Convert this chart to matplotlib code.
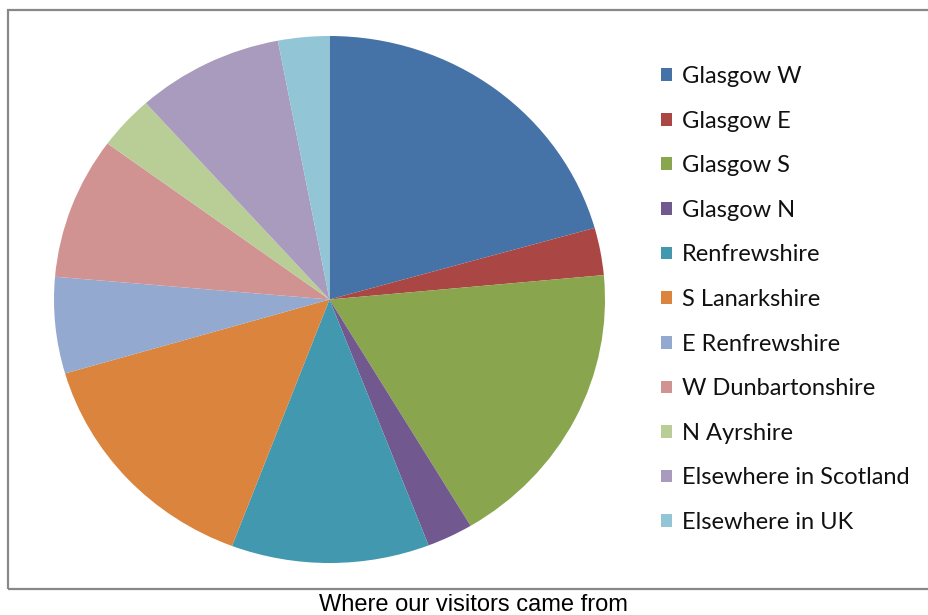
import matplotlib
matplotlib.use("Agg")
import matplotlib.pyplot as plt
from matplotlib.patches import Rectangle, Patch

categories = ["Glasgow W", "Glasgow E", "Glasgow S", "Glasgow N", "Renfrewshire",
              "S Lanarkshire", "E Renfrewshire", "W Dunbartonshire", "N Ayrshire",
              "Elsewhere in Scotland", "Elsewhere in UK"]
values = [20.6, 2.9, 17.9, 2.7, 11.6, 14.7, 5.9, 8.7, 3.3, 8.6, 3.0]
colors = ["#4572A7", "#AA4643", "#89A54E", "#71588F", "#4198AF", "#DB843D",
          "#93A9CF", "#D19392", "#B9CD96", "#A99BBD", "#92C5D6"]
title = "Where our visitors came from"

W, H = 929, 615
fig = plt.figure(figsize=(W / 100, H / 100), dpi=100)

# frame
fig.patches.append(Rectangle((8 / W, (H - 589) / H), (W + 20 - 8) / W, (589 - 10) / H,
                             transform=fig.transFigure, fill=False,
                             edgecolor="#888888", linewidth=1.6))

# pie (slightly elliptical like the reference)
left, right, top, bottom = 54, 605, 36, 563
ax = fig.add_axes([left / W, (H - bottom) / H, (right - left) / W, (bottom - top) / H])
ax.pie(values, colors=colors, startangle=90, counterclock=False,
       wedgeprops=dict(linewidth=0))
ax.set_aspect("auto")
ax.set_xlim(-1, 1)
ax.set_ylim(-1, 1)
ax.axis("off")

handles = [Patch(facecolor=c, edgecolor="none") for c in colors]
fig.legend(handles, categories, loc="upper left",
           bbox_to_anchor=(661 / W, (H - 66) / H), frameon=False,
           prop=dict(family="Lato", size=17), handlelength=0.45, handleheight=0.45,
           handletextpad=0.42, labelspacing=1.0, borderpad=0, borderaxespad=0,
           labelcolor="#111111")

fig.text(473 / W, (H - 605) / H, title, ha="center", va="center",
         family="Liberation Sans", fontsize=17, color="black")

fig.savefig("out.png", dpi=100)
